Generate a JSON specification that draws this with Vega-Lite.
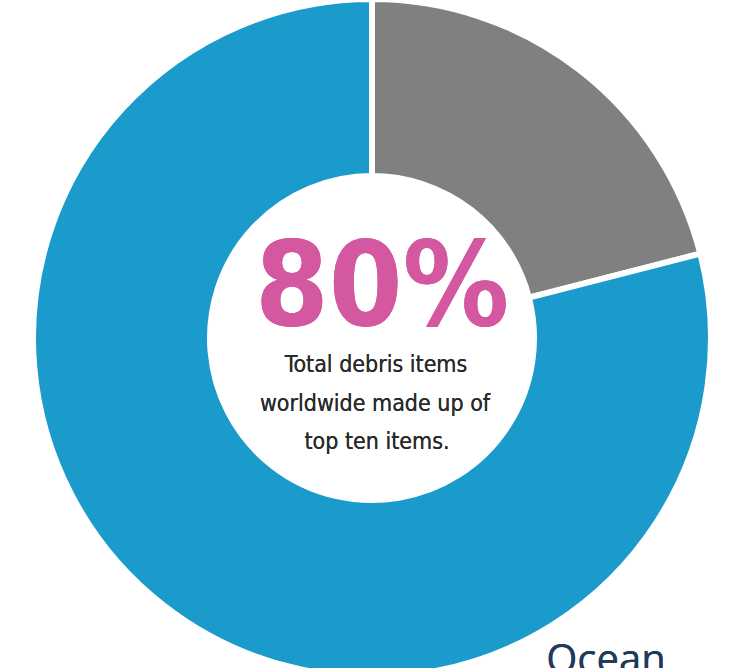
{
  "$schema": "https://vega.github.io/schema/vega-lite/v6.json",
  "autosize": "none",
  "width": 732,
  "height": 660,
  "padding": {"left": 6, "top": 8, "right": 0, "bottom": 0},
  "background": "white",
  "view": {"stroke": null},
  "data": {
    "values": [
      {"category": "Other items", "share": 21, "ord": 1},
      {"category": "Top ten items", "share": 79, "ord": 2}
    ]
  },
  "layer": [
    {
      "mark": {"type": "arc", "outerRadius": 339, "innerRadius": 162, "stroke": "white", "strokeWidth": 6},
      "encoding": {
        "theta": {"field": "share", "type": "quantitative", "stack": true},
        "order": {"field": "ord", "type": "ordinal"},
        "color": {
          "field": "category",
          "type": "nominal",
          "scale": {"domain": ["Other items", "Top ten items"], "range": ["#808080", "#1b9bcb"]},
          "legend": null
        }
      }
    },
    {
      "mark": {"type": "text", "font": "DejaVu Sans Condensed", "fontWeight": "bold", "fontSize": 118, "color": "#d4589f", "align": "center", "baseline": "alphabetic", "dx": 10, "dy": -13},
      "encoding": {"text": {"value": "80%"}}
    },
    {
      "mark": {"type": "text", "font": "DejaVu Sans Condensed", "fontSize": 23, "color": "#2a2a2a", "align": "center", "baseline": "middle", "dx": 4, "dy": 27},
      "encoding": {"text": {"value": "Total debris items"}}
    },
    {
      "mark": {"type": "text", "font": "DejaVu Sans Condensed", "fontSize": 23, "color": "#2a2a2a", "align": "center", "baseline": "middle", "dx": 3, "dy": 66},
      "encoding": {"text": {"value": "worldwide made up of"}}
    },
    {
      "mark": {"type": "text", "font": "DejaVu Sans Condensed", "fontSize": 23, "color": "#2a2a2a", "align": "center", "baseline": "middle", "dx": 5, "dy": 104},
      "encoding": {"text": {"value": "top ten items."}}
    },
    {
      "mark": {"type": "text", "font": "Open Sans", "fontSize": 40, "color": "#1f3a5a", "align": "center", "baseline": "alphabetic", "dx": 234, "dy": 335},
      "encoding": {"text": {"value": "Ocean"}}
    }
  ]
}
